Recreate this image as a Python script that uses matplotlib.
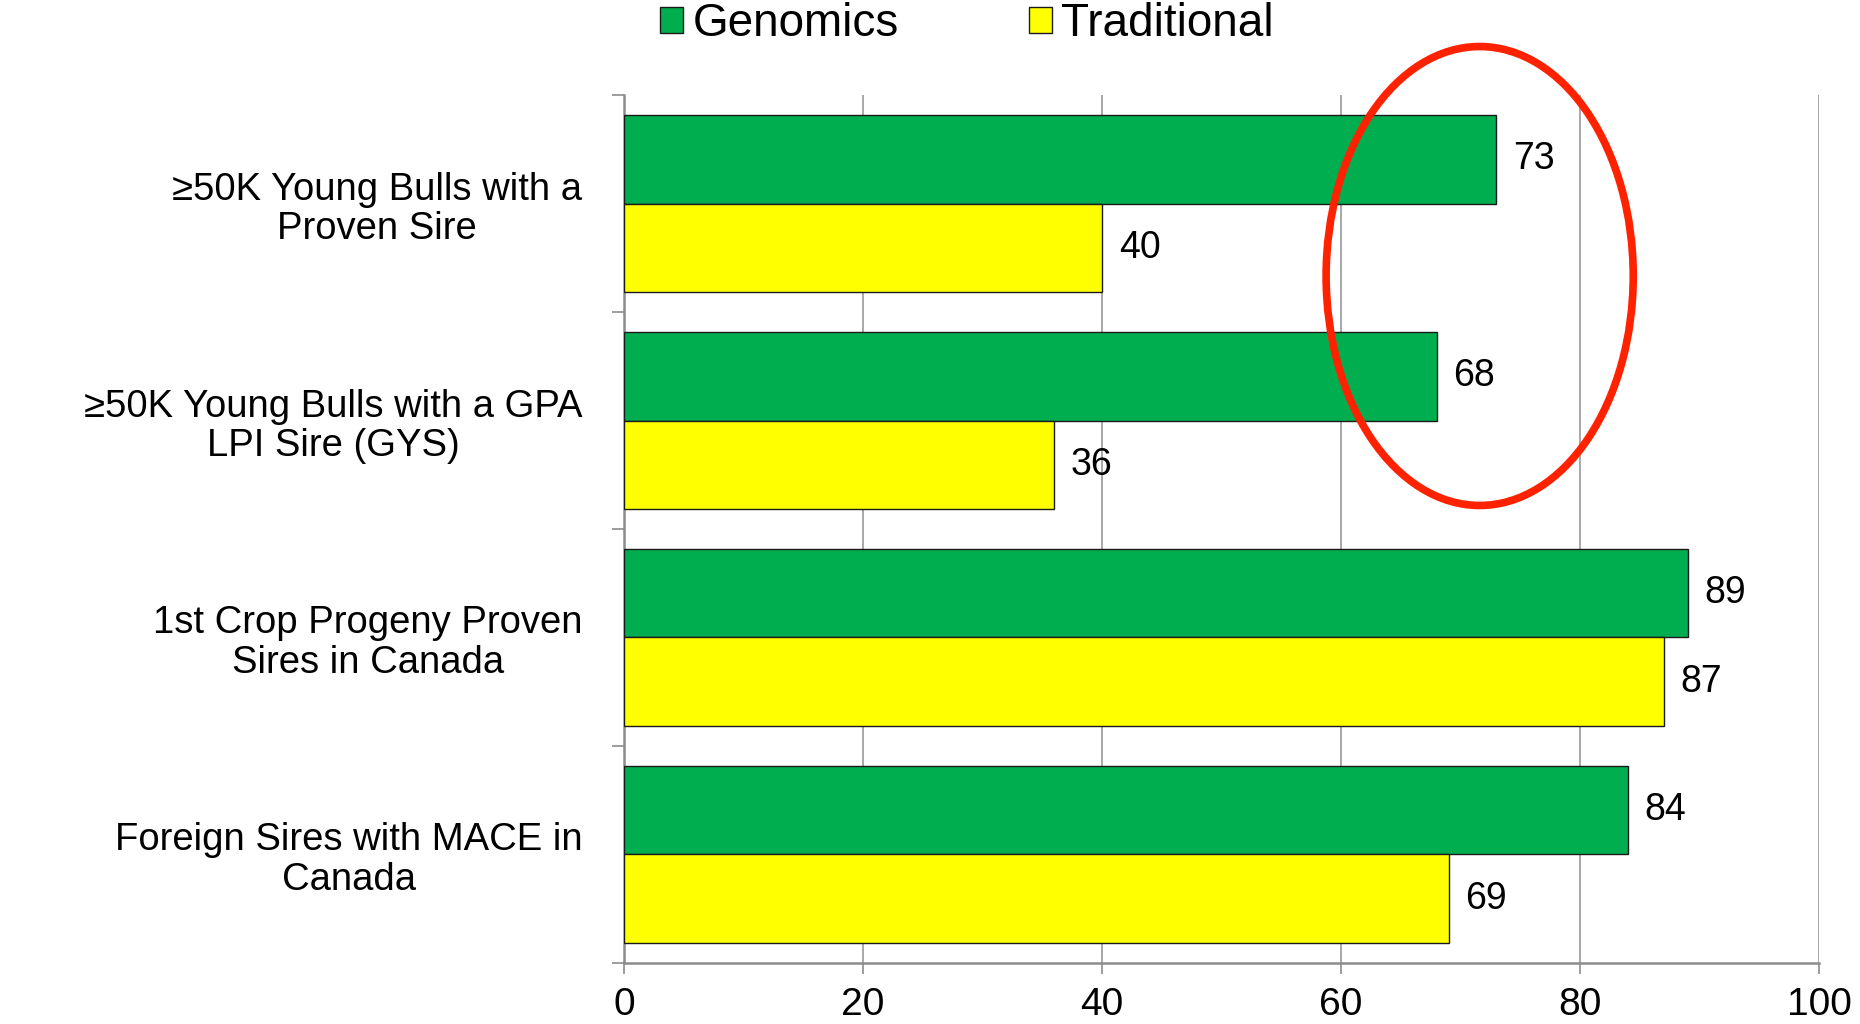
import numpy as np
import matplotlib.pyplot as plt
from matplotlib.patches import Patch, Ellipse

plt.rcParams['font.family'] = ['Liberation Sans', 'DejaVu Sans']

categories = [
    "\u226550K Young Bulls with a\nProven Sire",
    "\u226550K Young Bulls with a GPA\nLPI Sire (GYS)",
    "1st Crop Progeny Proven\nSires in Canada",
    "Foreign Sires with MACE in\nCanada",
]
genomics = [73, 68, 89, 84]
traditional = [40, 36, 87, 69]
x_ticks = [0, 20, 40, 60, 80, 100]

green = '#00AE4F'
yellow = '#FFFF00'
grey = '#8C8C8C'

fig = plt.figure(figsize=(18.6, 10.24), dpi=100)
ax = fig.add_axes([0.3355, 0.0596, 0.978 - 0.3355, 0.9072 - 0.0596])

y = np.arange(len(categories))
h = 0.41
b1 = ax.barh(y - h / 2, genomics, height=h, color=green, edgecolor='#1a1a1a', linewidth=1.0, zorder=3)
b2 = ax.barh(y + h / 2, traditional, height=h, color=yellow, edgecolor='#1a1a1a', linewidth=1.0, zorder=3)
ax.bar_label(b1, padding=12, fontsize=27)
ax.bar_label(b2, padding=12, fontsize=27)

ax.set_xlim(0, 100)
ax.set_ylim(len(categories) - 0.5, -0.5)
ax.set_xticks(x_ticks)
ax.set_xticklabels([str(t) for t in x_ticks], fontsize=28)
ax.tick_params(axis='x', length=8, width=1.2, color=grey, pad=9)

ax.set_yticks(y)
ax.set_yticklabels(categories, fontsize=27.5, multialignment='center', linespacing=1.12)
ax.tick_params(axis='y', which='major', length=0, pad=30)
ax.set_yticks(np.arange(len(categories) + 1) - 0.5, minor=True)
ax.tick_params(axis='y', which='minor', length=9, width=1.2, color=grey)

ax.grid(axis='x', color='#9a9a9a', linewidth=1.2, zorder=0)
for s in ['top', 'right']:
    ax.spines[s].set_visible(False)
for s in ['left', 'bottom']:
    ax.spines[s].set_color(grey)
    ax.spines[s].set_linewidth(1.8)

# red ring highlighting the young bull groups
ring = Ellipse((71.6, 0.334), 25.7, 2.115, fill=False, edgecolor='#FF2200',
               linewidth=5.5, clip_on=False, zorder=5)
ax.add_patch(ring)

handles = [Patch(facecolor=green, edgecolor='#1a1a1a', label='Genomics'),
           Patch(facecolor=yellow, edgecolor='#1a1a1a', label='Traditional')]
fig.legend(handles=handles, loc='center', bbox_to_anchor=(0.52, 1 - 24 / 1024),
           ncol=2, frameon=False, fontsize=33, handlelength=0.5, handleheight=0.5,
           handletextpad=0.2, columnspacing=2.85, borderpad=0)

fig.savefig('out.png', dpi=100)
